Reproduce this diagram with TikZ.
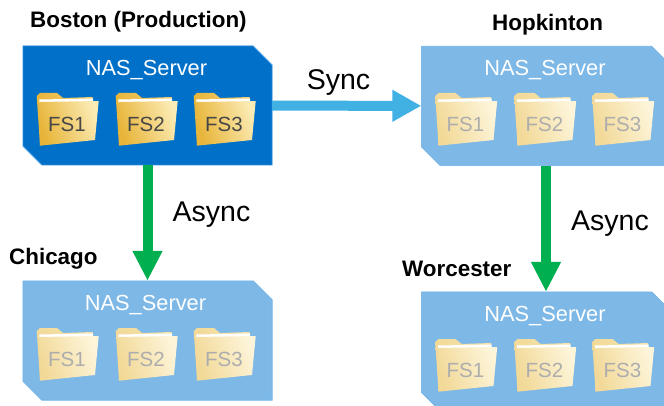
\documentclass[tikz,border=0pt]{standalone}
\usepackage{fontspec}
\setmainfont{Liberation Sans}
\usetikzlibrary{arrows.meta}
\definecolor{prodblue}{HTML}{0070C9}
\definecolor{replblue}{HTML}{7DB8E6}
\definecolor{edgeblue}{HTML}{6FB2E8}
\definecolor{syncblue}{HTML}{41B1E4}
\definecolor{asyncgreen}{HTML}{00B050}
\definecolor{golddark}{HTML}{E8B53A}
\definecolor{goldmid}{HTML}{F2D27A}
\definecolor{goldlight}{HTML}{FBEBB4}
\definecolor{paledark}{HTML}{F2D998}
\definecolor{palemid}{HTML}{F6E4B0}
\definecolor{palelight}{HTML}{FDF5DA}
\tikzset{
    panel/.style={minimum width=249pt, minimum height=119pt, inner sep=0pt},
    site/.style={font=\fontsize{22.4}{26}\selectfont\bfseries, inner sep=0pt},
    linklabel/.style={font=\fontsize{28.5}{33}\selectfont, inner sep=0pt},
    nasname/.style={font=\fontsize{21.8}{26}\selectfont, text=white, inner sep=0pt},
    syncarrow/.style={draw=syncblue, line width=10pt, -{Triangle[length=29pt,width=30pt]}},
    asyncarrow/.style={draw=asyncgreen, line width=10pt, -{Triangle[length=30pt,width=28pt]}},
    backbright/.style={left color=golddark, right color=goldmid},
    frontbright/.style={left color=golddark, middle color=goldmid, right color=goldlight, shading angle=110},
    backpale/.style={left color=paledark, right color=palemid},
    frontpale/.style={left color=paledark, middle color=palemid, right color=palelight, shading angle=110},
    pics/folder/.style n args={4}{code={
        \path[#2] (0.7,3) -- (4,0) -- (21,0) -- (27,5) -- (56.7,4) -- (57,10) -- (4,52) -- cycle;
        \path[fill=white] (3.3,6.5) -- (57,5.5) -- (57,9) -- (3.3,10) -- cycle;
        \path[#3] (3.3,9) -- (62.7,8) -- (59,47) -- (4,52.7) -- cycle;
        \node[font=\fontsize{20.5}{24}\selectfont, text=#4, inner sep=0pt] (-label) at (31,31) {#1};
    }},
}
\begin{document}
\begin{tikzpicture}[x=1pt,y=-1pt]
    \useasboundingbox (0,0) rectangle (664,406);
    \clip (0,0) rectangle (664,406);
    % panels
    \node[panel] (boston) at (147.5,105.5) {};
    \node[panel] (hopkinton) at (546,106) {};
    \node[panel] (chicago) at (147.5,340.5) {};
    \node[panel] (worcester) at (546,351.5) {};
    \foreach \p/\c in {boston/prodblue,hopkinton/replblue,chicago/replblue,worcester/replblue} {
        \path[fill=\c, draw=edgeblue, line width=0.6pt] (\p.north west) -- ([xshift=-19pt]\p.north east)
            -- ([yshift=-19pt]\p.north east) -- (\p.south east)
            -- ([xshift=19pt]\p.south west) -- ([yshift=19pt]\p.south west) -- cycle;
    }
    % panel titles
    \node[nasname] (bostonname) at (146.5,70) {NAS\_Server};
    \node[nasname] (hopkintonname) at (545,70) {NAS\_Server};
    \node[nasname] (chicagoname) at (145.5,305) {NAS\_Server};
    \node[nasname] (worcestername) at (545,316) {NAS\_Server};
    % folders
    \foreach \i/\dx in {1/0,2/79,3/157} {
        \pic (bostonfs\i) at (36+\dx,93) {folder={FS\i}{backbright}{frontbright}{black!72}};
        \pic (hopkintonfs\i) at (434.5+\dx,93) {folder={FS\i}{backpale}{frontpale}{black!32}};
        \pic (chicagofs\i) at (36+\dx,328) {folder={FS\i}{backpale}{frontpale}{black!32}};
        \pic (worcesterfs\i) at (434.5+\dx,339) {folder={FS\i}{backpale}{frontpale}{black!32}};
    }
    % site names
    \node[site, anchor=west] (bostonsite) at (30,22) {Boston (Production)};
    \node[site, anchor=west] (hopkintonsite) at (492,25) {Hopkinton};
    \node[site, anchor=west] (chicagosite) at (9,259) {Chicago};
    \node[site, anchor=west] (worcestersite) at (402,269) {Worcester};
    % replication links
    \draw[syncarrow] (boston) -- (hopkinton);
    \draw[asyncarrow] (boston) -- (chicago);
    \draw[asyncarrow] (hopkinton) -- (worcester);
    \node[linklabel] (synclabel) at (338.5,83) {Sync};
    \node[linklabel] (asyncleft) at (211.5,215) {Async};
    \node[linklabel] (asyncright) at (610,224) {Async};
\end{tikzpicture}
\end{document}
